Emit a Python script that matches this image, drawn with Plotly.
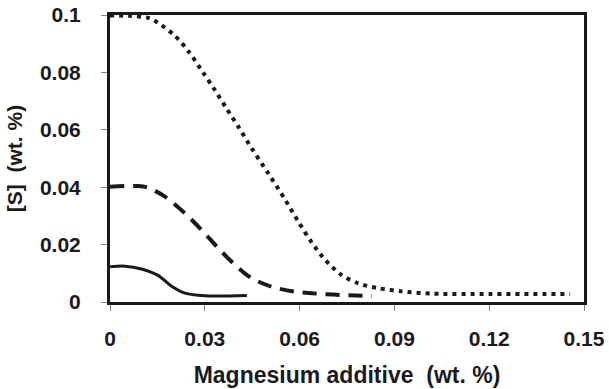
import plotly.graph_objects as go

# Solid curve
solid_x = [0.0, 0.0047, 0.0100, 0.0153, 0.0195, 0.0237, 0.0300, 0.0433]
solid_y = [0.0123, 0.0125, 0.0115, 0.0092, 0.0055, 0.0031, 0.0022, 0.0023]

# Dashed curve
dash_x = [0.0, 0.0090, 0.0121, 0.0174, 0.0237, 0.0290, 0.0343, 0.0396, 0.0448,
          0.0512, 0.0585, 0.0670, 0.0744, 0.0829]
dash_y = [0.0402, 0.0404, 0.0398, 0.0367, 0.0309, 0.0251, 0.0187, 0.0129, 0.0083,
          0.0053, 0.0036, 0.0028, 0.0024, 0.0021]

# Dotted curve
dot_x = [0.0, 0.0063, 0.0121, 0.0153, 0.0206, 0.0248, 0.0295, 0.0332, 0.0369,
         0.0406, 0.0448, 0.0501, 0.0554, 0.0596, 0.0638, 0.0680, 0.0733, 0.0786,
         0.0849, 0.0923, 0.1022, 0.1200, 0.1456]
dot_y = [0.0998, 0.0997, 0.0990, 0.0972, 0.0927, 0.0874, 0.0799, 0.0738, 0.0674,
         0.0611, 0.0536, 0.0448, 0.0357, 0.0280, 0.0208, 0.0148, 0.0094, 0.0065,
         0.0048, 0.0037, 0.0029, 0.0028, 0.0028]

x_ticks = [0, 0.03, 0.06, 0.09, 0.12, 0.15]
x_ticklabels = ["0", "0.03", "0.06", "0.09", "0.12", "0.15"]
y_ticks = [0, 0.02, 0.04, 0.06, 0.08, 0.1]
y_ticklabels = ["0", "0.02", "0.04", "0.06", "0.08", "0.1"]

BLACK = "#1a1a1a"

fig = go.Figure()
fig.add_trace(go.Scatter(x=solid_x, y=solid_y, mode="lines",
                         line=dict(color=BLACK, width=3, shape="spline", smoothing=0.8),
                         showlegend=False))
fig.add_trace(go.Scatter(x=dash_x, y=dash_y, mode="lines",
                         line=dict(color=BLACK, width=4, dash="14px,9px", shape="spline", smoothing=0.8),
                         showlegend=False))
fig.add_trace(go.Scatter(x=dot_x, y=dot_y, mode="lines",
                         line=dict(color=BLACK, width=4, dash="4px,5px", shape="spline", smoothing=0.8),
                         showlegend=False))

tick_font = dict(family="Arial, Liberation Sans, sans-serif", size=21, color=BLACK, weight="bold")
ytitle_font = dict(family="Arial, Liberation Sans, sans-serif", size=21, color=BLACK, weight="bold")
xtitle_font = dict(family="Arial, Liberation Sans, sans-serif", size=23, color=BLACK, weight="bold")

fig.update_layout(
    width=609, height=389,
    margin=dict(l=110, r=25, t=15, b=87),
    paper_bgcolor="white", plot_bgcolor="white",
    xaxis=dict(
        range=[0, 0.15], tickvals=x_ticks, ticktext=x_ticklabels,
        showgrid=False, zeroline=False, automargin=False,
        showline=True, linecolor=BLACK, linewidth=3, mirror=True,
        ticks="outside", ticklen=6, tickwidth=1, tickcolor="#888888",
        ticklabelstandoff=10,
        tickfont=tick_font,
        title=dict(text="Magnesium additive  (wt. %)", font=xtitle_font, standoff=18),
    ),
    yaxis=dict(
        range=[0, 0.1], tickvals=y_ticks, ticktext=y_ticklabels,
        showgrid=False, zeroline=False, automargin=False,
        showline=True, linecolor=BLACK, linewidth=3, mirror=True,
        ticks="outside", ticklen=6, tickwidth=1, tickcolor="#888888",
        ticklabelstandoff=16,
        tickfont=tick_font,
        title=dict(text="[S]  (wt. %)", font=ytitle_font, standoff=12),
    ),
)

fig.write_html("out.html")
